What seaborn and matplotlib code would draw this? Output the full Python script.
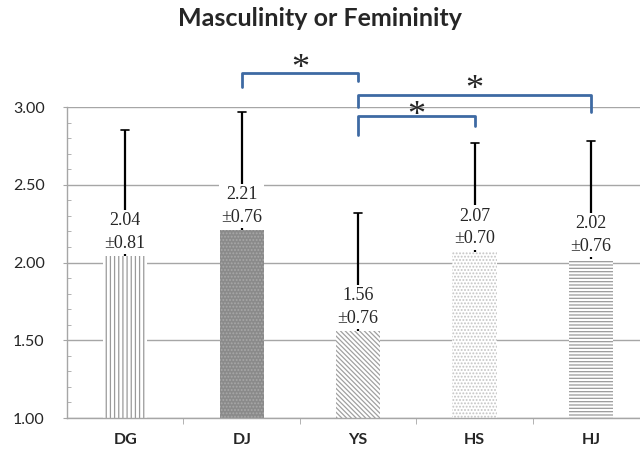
import matplotlib
matplotlib.use("Agg")
import matplotlib.pyplot as plt
import seaborn as sns
import pandas as pd
from matplotlib.ticker import MultipleLocator, FixedLocator

# data
groups = ['DG', 'DJ', 'YS', 'HS', 'HJ']
means = [2.04, 2.21, 1.56, 2.07, 2.02]
sds = [0.81, 0.76, 0.76, 0.70, 0.76]
# significance brackets: (left group, right group, bar height, left leg end, right leg end, star y)
brackets = [
    (1, 2, 3.22, 3.13, 3.17, 3.24),
    (2, 4, 3.08, 3.00, 2.97, 3.105),
    (2, 3, 2.94, 2.82, 2.88, 2.94),
]

df = pd.DataFrame({'Group': groups, 'Mean': means, 'SD': sds})

sns.set_style("white")
plt.rcParams['font.family'] = ['Lato', 'DejaVu Sans']
plt.rcParams['hatch.linewidth'] = 0.9

fig = plt.figure(figsize=(6.4, 4.53), dpi=100)
ax = fig.add_axes([67 / 640, 1 - 418 / 453, 1 - 67 / 640, (418 - 107) / 453])

sns.barplot(data=df, x='Group', y='Mean', ax=ax, width=0.38, color='white',
            errorbar=None, zorder=2)

# patterns for each bar (face, hatch, hatch colour)
styles = [
    ('white', '||||', '#9a9a9a'),
    ('#8a8a8a', '.....', '#a8a8a8'),
    ('white', '\\\\\\\\\\\\\\', '#a0a0a0'),
    ('white', '.....', '#c4c4c4'),
    ('white', '-----', '#9a9a9a'),
]
for p, (fc, h, ec) in zip(ax.patches, styles):
    p.set_facecolor(fc)
    p.set_hatch(h)
    p.set_edgecolor(ec)
    p.set_linewidth(0)

# upward error bars with a small cap
for i, (m, s) in enumerate(zip(means, sds)):
    ax.vlines(i, m, m + s, color='black', lw=1.6, zorder=3)
    ax.plot([i - 0.035, i + 0.035], [m + s, m + s], color='black', lw=1.2, zorder=3)
    ax.annotate(f'{m:.2f}\n\u00b1{s:.2f}', (i, m), xytext=(0, 3),
                textcoords='offset points', ha='center', va='bottom',
                fontsize=13, family=['Liberation Serif', 'DejaVu Serif'],
                linespacing=1.45, zorder=4,
                bbox=dict(facecolor='white', edgecolor='none', pad=1.5))

# significance brackets
bc = '#3e6aa3'
for a, b, yb, ya, yc, ys in brackets:
    ax.plot([a, a, b, b], [ya, yb, yb, yc], color=bc, lw=2, clip_on=False, zorder=5)
    ax.text((a + b) / 2, ys, '*', ha='center', va='center', fontsize=26,
            family=['Liberation Serif', 'DejaVu Serif'], clip_on=False, zorder=6)

ax.set_ylim(1, 3)
ax.set_xlim(-0.5, 4.42)
ax.set_yticks([1, 1.5, 2, 2.5, 3])
ax.set_yticklabels([f'{v:.2f}' for v in [1, 1.5, 2, 2.5, 3]])
ax.yaxis.set_minor_locator(MultipleLocator(0.1))
ax.xaxis.set_minor_locator(FixedLocator([0.5, 1.5, 2.5, 3.5]))
ax.grid(axis='y', which='major', color='#a6a6a6', lw=1, zorder=0)
ax.set_axisbelow(True)

for s in ['top', 'right']:
    ax.spines[s].set_visible(False)
for s in ['left', 'bottom']:
    ax.spines[s].set_color('#a6a6a6')
    ax.spines[s].set_linewidth(1)

ax.tick_params(axis='y', which='major', direction='out', length=3, color='#a6a6a6',
               labelsize=11.5, pad=13, left=True)
ax.tick_params(axis='y', which='minor', direction='in', length=3, color='#a6a6a6', left=True)
ax.tick_params(axis='x', which='major', length=0, labelsize=11.5, pad=11)
ax.tick_params(axis='x', which='minor', direction='out', length=4, color='#a6a6a6', bottom=True)
for lbl in ax.get_xticklabels():
    lbl.set_fontweight('bold')

ax.set_xlabel('')
ax.set_ylabel('')
fig.text(0.5, 1 - 18 / 453, 'Masculinity or Femininity', ha='center', va='center',
         fontsize=18, fontweight='bold')

fig.savefig('out.png', dpi=100)
